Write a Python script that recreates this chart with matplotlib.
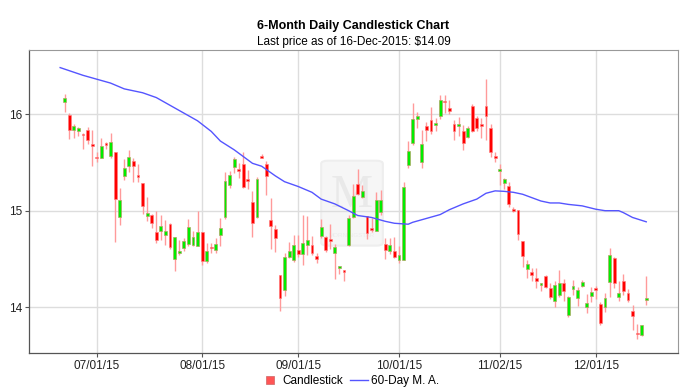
import matplotlib
matplotlib.use("Agg")
import matplotlib.pyplot as plt
import numpy as np
import pandas as pd
from matplotlib.patches import FancyBboxPatch
from matplotlib.lines import Line2D

plt.rcParams['font.family'] = ['Liberation Sans', 'DejaVu Sans']

# ---- data ----
dates = pd.bdate_range("2015-06-22", "2015-12-16")

opens = [16.12, 15.99, 15.83, 15.82, 15.79, 15.83, 15.68, 15.55, 15.55, 15.69,
         15.57, 15.61, 14.93, 15.36, 15.46, 15.51, 15.37, 15.29, 14.94, 14.96,
         14.78, 14.79, 14.75, 14.86, 14.50, 14.56, 14.61, 14.66, 14.64, 14.63,
         14.78, 14.48, 14.62, 14.59, 14.75, 14.93, 15.27, 15.45, 15.42, 15.48,
         15.32, 15.09, 14.93, 15.57, 15.48, 14.90, 14.81, 14.33, 14.18, 14.52,
         14.49, 14.59, 14.55, 14.65, 14.64, 14.53, 14.74, 14.73, 14.70, 14.56,
         14.41, 14.39, 14.64, 14.93, 15.28, 15.14, 14.94, 14.81, 14.79, 14.99,
         14.66, 14.58, 14.58, 14.49, 14.49, 15.47, 15.70, 15.95, 15.50, 15.88,
         15.94, 15.89, 15.98, 16.13, 16.06, 15.90, 15.88, 15.82, 15.76, 16.08,
         15.96, 15.90, 16.08, 15.86, 15.56, 15.41, 15.29, 15.26, 15.01, 15.01,
         14.69, 14.40, 14.37, 14.30, 14.23, 14.32, 14.20, 14.07, 14.13, 14.25,
         13.92, 14.19, 14.10, 14.22, 14.00, 14.12, 14.20, 14.03, 14.00, 14.26,
         14.51, 14.11, 14.27, 14.15, 13.96, 13.73, 13.71, 14.08]
closes = [16.17, 15.83, 15.88, 15.86, 15.78, 15.73, 15.67, 15.54, 15.67, 15.68,
          15.71, 15.12, 15.11, 15.44, 15.56, 15.46, 15.35, 15.05, 14.98, 14.87,
          14.70, 14.84, 14.79, 14.62, 14.73, 14.58, 14.69, 14.83, 14.73, 14.78,
          14.48, 14.58, 14.61, 14.66, 14.82, 15.31, 15.37, 15.53, 15.41, 15.25,
          15.31, 14.87, 15.33, 15.55, 15.36, 14.84, 14.72, 14.10, 14.52, 14.58,
          14.65, 14.55, 14.67, 14.70, 14.56, 14.50, 14.83, 14.59, 14.69, 14.62,
          14.43, 14.37, 14.92, 15.15, 15.17, 15.20, 14.77, 14.80, 15.11, 15.11,
          14.59, 14.64, 14.52, 14.54, 15.25, 15.62, 15.95, 15.98, 15.69, 15.83,
          15.82, 15.90, 16.14, 16.12, 16.03, 15.82, 15.90, 15.70, 15.86, 15.82,
          15.86, 15.88, 15.98, 15.61, 15.55, 15.43, 15.33, 15.07, 15.00, 14.76,
          14.53, 14.45, 14.34, 14.27, 14.25, 14.21, 14.11, 14.23, 14.25, 14.17,
          14.11, 14.22, 14.18, 14.26, 14.05, 14.16, 14.18, 13.84, 14.10, 14.54,
          14.25, 14.15, 14.17, 14.08, 13.91, 13.72, 13.82, 14.09]
highs = [16.21, 16.01, 15.90, 15.87, 15.80, 15.87, 15.83, 15.61, 15.75, 15.71,
         15.80, 15.61, 15.23, 15.53, 15.63, 15.54, 15.48, 15.29, 15.14, 14.97,
         15.00, 14.96, 14.90, 14.87, 14.73, 14.70, 14.72, 14.91, 14.79, 15.00,
         14.78, 14.67, 14.67, 14.72, 14.92, 15.40, 15.41, 15.56, 15.49, 15.61,
         15.42, 15.20, 15.35, 15.59, 15.51, 15.13, 14.85, 14.33, 14.56, 14.68,
         14.75, 14.75, 14.96, 14.95, 14.74, 14.56, 14.91, 14.74, 14.86, 14.66,
         14.43, 14.39, 14.96, 15.28, 15.43, 15.27, 14.95, 14.92, 15.19, 15.21,
         14.72, 14.72, 14.73, 14.63, 15.30, 15.72, 16.11, 16.02, 15.83, 15.92,
         16.07, 15.96, 16.20, 16.20, 16.15, 15.94, 15.97, 15.89, 15.88, 16.10,
         15.98, 15.96, 16.36, 15.90, 15.61, 15.48, 15.34, 15.30, 15.04, 15.01,
         14.69, 14.49, 14.41, 14.41, 14.25, 14.34, 14.25, 14.27, 14.39, 14.29,
         14.12, 14.28, 14.21, 14.28, 14.14, 14.21, 14.22, 14.06, 14.15, 14.61,
         14.52, 14.27, 14.35, 14.19, 14.02, 13.83, 13.82, 14.32]
lows = [16.02, 15.74, 15.75, 15.77, 15.64, 15.69, 15.46, 15.50, 15.54, 15.64,
        15.54, 14.68, 14.85, 15.32, 15.40, 15.30, 15.30, 14.97, 14.89, 14.82,
        14.67, 14.70, 14.65, 14.60, 14.38, 14.54, 14.58, 14.63, 14.63, 14.63,
        14.44, 14.46, 14.56, 14.56, 14.63, 14.91, 15.23, 15.39, 15.34, 15.23,
        15.22, 14.73, 14.92, 15.54, 15.16, 14.60, 14.57, 13.96, 14.12, 14.51,
        14.47, 14.52, 14.44, 14.54, 14.54, 14.46, 14.72, 14.57, 14.60, 14.29,
        14.35, 14.27, 14.63, 14.92, 15.16, 15.13, 14.71, 14.78, 14.79, 14.96,
        14.50, 14.55, 14.51, 14.46, 14.49, 15.44, 15.68, 15.86, 15.44, 15.72,
        15.79, 15.82, 15.95, 16.01, 16.00, 15.73, 15.77, 15.63, 15.75, 15.81,
        15.82, 15.75, 15.73, 15.56, 15.50, 15.27, 15.22, 15.04, 14.99, 14.70,
        14.42, 14.30, 14.27, 14.20, 14.17, 14.20, 14.09, 14.00, 14.11, 14.07,
        13.90, 14.13, 14.01, 14.21, 13.94, 14.06, 14.09, 13.82, 13.95, 14.11,
        14.20, 14.07, 14.13, 14.06, 13.77, 13.67, 13.70, 14.02]

# 60-day moving average, read at sample day offsets (relative to first candle)
ma_day = [-1, 4, 7, 10, 13, 17, 20, 23, 26, 29, 32, 34, 37, 39, 41, 43, 46, 48,
          51, 54, 56, 59, 62, 64, 67, 70, 72, 75, 76, 79, 82, 84, 87, 90, 92,
          94, 96, 98, 100, 104, 106, 108, 110, 113, 116, 118, 121, 122, 124, 127]
ma_val = [16.48, 16.40, 16.36, 16.32, 16.26, 16.22, 16.17, 16.09, 16.01, 15.93,
          15.82, 15.72, 15.63, 15.56, 15.49, 15.46, 15.36, 15.30, 15.25, 15.19,
          15.12, 15.07, 15.00, 14.95, 14.93, 14.89, 14.87, 14.86, 14.88, 14.92,
          14.96, 15.01, 15.07, 15.12, 15.18, 15.205, 15.20, 15.19, 15.17, 15.10,
          15.08, 15.08, 15.065, 15.05, 15.015, 15.00, 15.00, 14.98, 14.93, 14.885]

tick_dates = ["2015-07-01", "2015-08-03", "2015-09-01", "2015-10-01", "2015-11-02", "2015-12-01"]
tick_labels = ["07/01/15", "08/01/15", "09/01/15", "10/01/15", "11/02/15", "12/01/15"]
y_ticks = [14, 15, 16]

title = "6-Month Daily Candlestick Chart"
subtitle = "Last price as of 16-Dec-2015: $14.09"

# ---- figure ----
fig = plt.figure(figsize=(7, 3.9), dpi=100)
ax = fig.add_axes([29/700, 1 - 353.3/390, (678.3 - 29)/700, (353.3 - 50)/390])

x = np.arange(len(dates))
o = np.array(opens); c = np.array(closes); h = np.array(highs); l = np.array(lows)
up = c >= o

# watermark
wm = FancyBboxPatch((0.455, 0.36), 0.085, 0.27, boxstyle="round,pad=0.005,rounding_size=0.01",
                    transform=ax.transAxes, facecolor="#f6f6f6", edgecolor="#eeeeee", lw=1.5, zorder=0.5)
ax.add_patch(wm)
ax.text(0.4975, 0.52, "M", transform=ax.transAxes, ha="center", va="center",
        fontsize=34, family="Liberation Serif", color="#e9e9e9", zorder=0.6)
ax.text(0.4975, 0.39, "MORNINGSTAR", transform=ax.transAxes, ha="center", va="center",
        fontsize=4.5, color="#ececec", zorder=0.6)

# wicks
ax.vlines(x, l, h, color="#ff9a9a", lw=1.0, zorder=2)
# bodies
body_h = np.maximum(np.abs(c - o), 0.018)
body_b = np.minimum(o, c)
ax.bar(x[up], body_h[up], bottom=body_b[up], width=0.62, color="#00ee00",
       edgecolor="#b4a060", linewidth=0.45, zorder=3)
ax.bar(x[~up], body_h[~up], bottom=body_b[~up], width=0.62, color="#ff0000",
       edgecolor="#ff8080", linewidth=0.45, zorder=3)

# moving average
ax.plot(ma_day, ma_val, color="#5555ff", lw=1.0, zorder=4)

# axes
tick_pos = [int(dates.get_loc(pd.Timestamp(d))) for d in tick_dates]
ax.set_xticks(tick_pos)
ax.set_xticklabels(tick_labels, fontsize=8.5, color="#222222")
ax.set_yticks(y_ticks)
ax.set_yticklabels([str(v) for v in y_ticks], fontsize=8.5, color="#222222")
ax.set_xlim(-7.8, 134.0)
ax.set_ylim(13.525, 16.662)
ax.grid(True, color="#dddddd", lw=1.0, zorder=0)
ax.set_axisbelow(True)
ax.tick_params(axis="both", length=3, width=0.8, color="#555555", pad=2)
for side in ["top", "right"]:
    ax.spines[side].set_color("#999999")
    ax.spines[side].set_linewidth(0.8)
for side in ["left", "bottom"]:
    ax.spines[side].set_color("#555555")
    ax.spines[side].set_linewidth(0.9)

fig.text(0.505, 1 - 26/390, title, ha="center", va="center", fontsize=9, fontweight="bold")
fig.text(0.505, 1 - 42/390, subtitle, ha="center", va="center", fontsize=8.5)

handles = [Line2D([0], [0], marker="s", linestyle="none", markersize=6,
                  markerfacecolor="#ff5555", markeredgecolor="#cc6666", markeredgewidth=0.5),
           Line2D([0], [0], color="#5555ff", lw=1.0)]
fig.legend(handles, ["Candlestick", "60-Day M. A."], loc="center", bbox_to_anchor=(0.5, 1 - 381/390),
           ncol=2, frameon=False, fontsize=8.5, handlelength=1.5,
           handletextpad=0.3, columnspacing=0.6, borderpad=0)

fig.savefig("out.png", dpi=100)
